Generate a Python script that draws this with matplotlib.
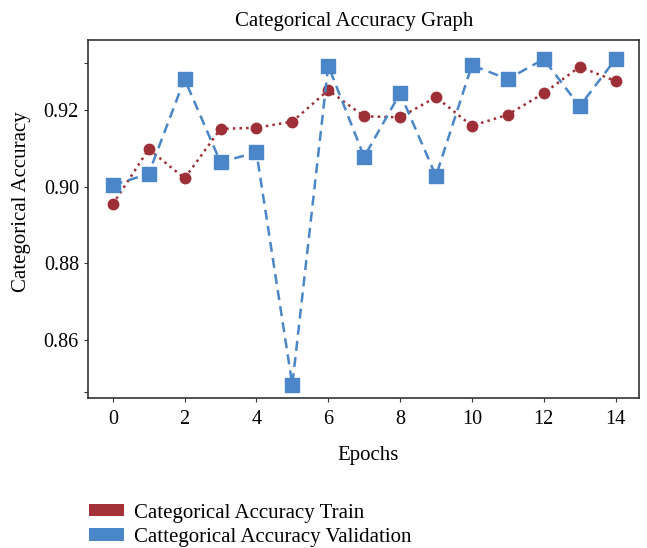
import matplotlib
matplotlib.use("Agg")
import matplotlib.pyplot as plt
from matplotlib.patches import Patch

epochs = list(range(15))
train_acc = [0.8954, 0.9098, 0.9022, 0.9151, 0.9154, 0.9170, 0.9252, 0.9184,
             0.9181, 0.9234, 0.9159, 0.9188, 0.9244, 0.9313, 0.9276]
val_acc = [0.9004, 0.9034, 0.9281, 0.9064, 0.9090, 0.8483, 0.9316, 0.9078,
           0.9244, 0.9028, 0.9317, 0.9281, 0.9333, 0.9210, 0.9333]
x_ticks = [0, 2, 4, 6, 8, 10, 12, 14]
y_ticks = [0.8463, 0.86, 0.88, 0.90, 0.92, 0.9322]
y_tick_labels = ["", "0.86", "0.88", "0.90", "0.92", ""]

title = "Categorical Accuracy Graph"
xlabel = "Epochs"
ylabel = "Categorical Accuracy"
legend_labels = ["Categorical Accuracy Train", "Cattegorical Accuracy Validation"]

red = "#9E2F36"
blue = "#4A86C8"

plt.rcParams["font.family"] = ["Liberation Serif", "DejaVu Serif"]

fig = plt.figure(figsize=(6.47, 5.48), dpi=100)
ax = fig.add_axes([0.136, 0.274, 0.852, 0.653])

ax.plot(epochs, train_acc, linestyle=":", color=red, linewidth=1.8,
        marker="o", markersize=7.5, markeredgecolor=red, zorder=3)
ax.plot(epochs, val_acc, linestyle=(0, (4, 2.5)), color=blue, linewidth=1.8,
        marker="s", markersize=9.5, markeredgecolor=blue, zorder=4)

ax.set_xlim(-0.69, 14.66)
ax.set_ylim(0.8449, 0.9383)
ax.set_xticks(x_ticks)
ax.set_yticks(y_ticks)
ax.set_yticklabels(y_tick_labels)
ax.tick_params(axis="both", labelsize=14.5, length=3, direction="out", color="#333333")
ax.tick_params(axis="x", pad=6)
for s in ax.spines.values():
    s.set_color("#333333")
    s.set_linewidth(1.2)

ax.set_title(title, fontsize=15, pad=10, x=0.483)
ax.set_xlabel(xlabel, fontsize=15, labelpad=12)
ax.set_ylabel(ylabel, fontsize=15)
ax.yaxis.set_label_coords(-0.103, 0.547)
ax.xaxis.label.set_x(0.508)

handles = [Patch(facecolor="#A33238", edgecolor="none"),
           Patch(facecolor="#4A88C9", edgecolor="none")]
fig.legend(handles, legend_labels, loc="lower left", bbox_to_anchor=(0.108, -0.032),
           frameon=False, fontsize=15, handlelength=1.7, handleheight=0.55,
           handletextpad=0.5, labelspacing=0.25)

fig.savefig("out.png", dpi=100)
